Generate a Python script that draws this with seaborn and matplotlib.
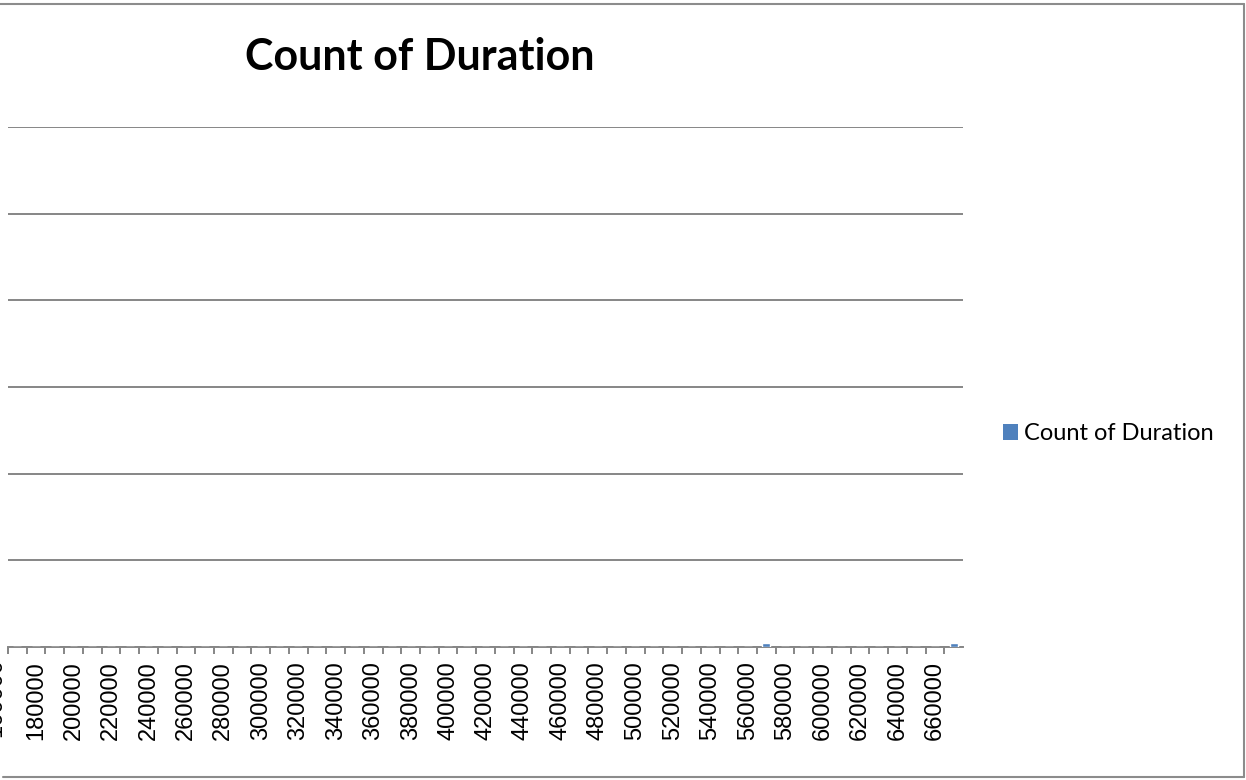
import pandas as pd
import matplotlib.pyplot as plt
import seaborn as sns
from matplotlib.lines import Line2D
from matplotlib.patches import Patch

# data
durations = [160000, 170000, 180000, 190000, 200000, 210000, 220000, 230000,
             240000, 250000, 260000, 270000, 280000, 290000, 300000, 310000,
             320000, 330000, 340000, 350000, 360000, 370000, 380000, 390000,
             400000, 410000, 420000, 430000, 440000, 450000, 460000, 470000,
             480000, 490000, 500000, 510000, 520000, 530000, 540000, 550000,
             560000, 570000, 580000, 590000, 600000, 610000, 620000, 630000,
             640000, 650000, 660000, 670000]
counts = [0, 0, 0, 0, 0, 0, 0, 0,
          0, 0, 0, 0, 0, 0, 0, 0,
          0, 0, 0, 0, 0, 0, 0, 0,
          0, 0, 0, 0, 0, 0, 0, 0,
          0, 0, 0, 0, 0, 0, 0, 0,
          0, 1, 0, 0, 0, 0, 0, 0,
          0, 0, 0, 1]
y_ticks = [0, 20, 40, 60, 80, 100, 120]

bar_color = "#4F81BD"
grid_color = "#868686"

sns.set_theme(style="white")
plt.rcParams["font.family"] = ["Lato", "DejaVu Sans"]
plt.rcParams["text.color"] = "black"
plt.rcParams["xtick.color"] = "black"

W, H = 1246, 780
fig = plt.figure(figsize=(W / 100, H / 100), dpi=100)
ax = fig.add_axes([8 / W, 1 - 647 / H, (963 - 8) / W, (647 - 127) / H])

df = pd.DataFrame({"Duration": [str(d) for d in durations], "Count": counts})
sns.barplot(data=df, x="Duration", y="Count", color=bar_color, width=0.42,
            saturation=1, ax=ax)

ax.set_xlim(0.5, len(durations) - 0.5)
ax.set_ylim(y_ticks[0], y_ticks[-1])
ax.set_yticks(y_ticks)
ax.set_yticklabels([])
ax.yaxis.grid(True, color=grid_color, linewidth=1.4)
ax.xaxis.grid(False)
ax.tick_params(axis="y", length=0)
for s in ["left", "right", "top"]:
    ax.spines[s].set_visible(False)
ax.spines["bottom"].set_color(grid_color)
ax.spines["bottom"].set_linewidth(1.4)
ax.spines["bottom"].set_zorder(0.5)
ax.set_xlabel("")
ax.set_ylabel("")

# labels every second category, tick marks on the category borders
label_pos = list(range(2, len(durations), 2))
ax.set_xticks(label_pos)
ax.set_xticklabels([str(durations[i]) for i in label_pos], rotation=90,
                   fontsize=17, family=["Liberation Sans"])
ax.tick_params(axis="x", which="major", length=0, pad=10)
ax.set_xticks([i + 0.5 for i in range(len(durations) - 1)] + [0.5], minor=True)
ax.tick_params(axis="x", which="minor", length=5, width=1.4, color=grid_color,
               direction="out", bottom=True)
# first label sits off the left edge, only a sliver shows
ax.text(-0.2, -2.5, str(durations[0]), transform=ax.transData, rotation=90,
        ha="center", va="top", fontsize=17, family=["Liberation Sans"],
        clip_on=False)

fig.text(420 / W, 1 - 57 / H, "Count of Duration", ha="center", va="center",
         fontsize=31, fontweight="bold")

handles = [Patch(facecolor=bar_color, edgecolor="none")]
fig.legend(handles, ["Count of Duration"], loc="center left",
           bbox_to_anchor=(1003 / W, 1 - 434 / H), frameon=False, fontsize=17,
           handlelength=0.65, handleheight=0.65, handletextpad=0.25,
           borderpad=0, borderaxespad=0)

# chart border
bc = "#8C8C8C"
fig.add_artist(Line2D([0, 1244 / W], [1 - 4 / H, 1 - 4 / H], color=bc, lw=1.5,
                      transform=fig.transFigure))
fig.add_artist(Line2D([1244 / W, 1244 / W], [1 - 4 / H, 1 - 777 / H], color=bc,
                      lw=1.5, transform=fig.transFigure))
fig.add_artist(Line2D([3 / W, 1244 / W], [1 - 777 / H, 1 - 777 / H], color=bc,
                      lw=1.5, transform=fig.transFigure))

fig.savefig("out.png", dpi=100)
